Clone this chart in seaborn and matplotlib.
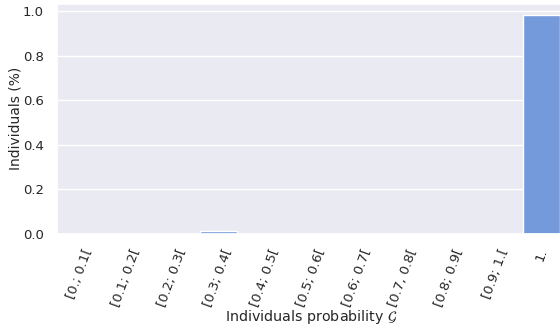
import matplotlib
matplotlib.use("Agg")
import matplotlib.pyplot as plt
import seaborn as sns
import pandas as pd

categories = ["[0.; 0.1[", "[0.1; 0.2[", "[0.2; 0.3[", "[0.3; 0.4[", "[0.4; 0.5[",
              "[0.5; 0.6[", "[0.6; 0.7[", "[0.7, 0.8[", "[0.8; 0.9[", "[0.9; 1.[", "1."]
values = [0.0, 0.0, 0.0, 0.011, 0.0, 0.0, 0.0, 0.0, 0.0, 0.0, 0.985]

sns.set_theme(style="darkgrid")
plt.rcParams['font.family'] = ['DejaVu Sans']

df = pd.DataFrame({"cat": categories, "val": values})

fig = plt.figure(figsize=(5.6, 3.29), dpi=100)
ax = fig.add_axes([0.1018, 0.290, 0.907, 0.698])
sns.barplot(data=df, x="cat", y="val", color="cornflowerblue", ax=ax)
ax.set_xlabel(r"Individuals probability $\mathcal{G}$", fontsize=10.3, labelpad=-0.5)
ax.set_ylabel("Individuals (%)", fontsize=10, labelpad=0)
ax.tick_params(axis="both", labelsize=9.5)
ax.set_yticks([0.0, 0.2, 0.4, 0.6, 0.8, 1.0])
ax.set_ylim(0, 1.034)
plt.setp(ax.get_xticklabels(), rotation=70)
fig.savefig("out.png", dpi=100)
